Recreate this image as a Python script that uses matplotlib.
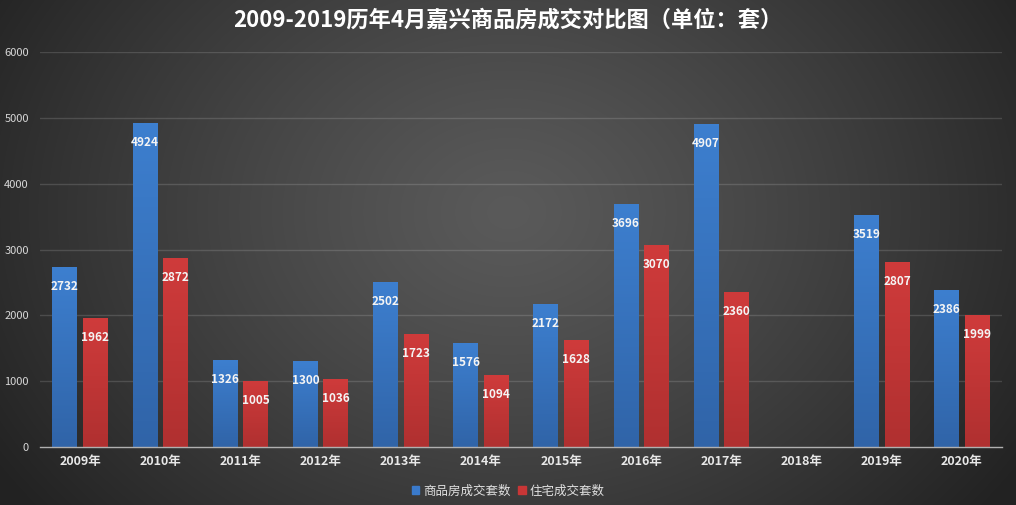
import numpy as np
import matplotlib
matplotlib.use("Agg")
import matplotlib.pyplot as plt
from matplotlib.colors import LinearSegmentedColormap
from matplotlib.patches import Patch

plt.rcParams['font.family'] = ['Noto Sans CJK SC', 'DejaVu Sans']

years = ['2009年', '2010年', '2011年', '2012年', '2013年', '2014年',
         '2015年', '2016年', '2017年', '2018年', '2019年', '2020年']
commercial = [2732, 4924, 1326, 1300, 2502, 1576, 2172, 3696, 4907, None, 3519, 2386]
residential = [1962, 2872, 1005, 1036, 1723, 1094, 1628, 3070, 2360, None, 2807, 1999]
series_names = ['商品房成交套数', '住宅成交套数']
title = '2009-2019历年4月嘉兴商品房成交对比图（单位：套）'

W, H = 1016, 505
fig = plt.figure(figsize=(W / 100, H / 100), dpi=100)

# radial gradient background
bg = fig.add_axes([0, 0, 1, 1], zorder=-10)
yy, xx = np.mgrid[0:H, 0:W]
cx, cy = W * 0.5, H * 0.42
r = np.sqrt(((xx - cx) / (W * 0.6)) ** 2 + ((yy - cy) / (H * 0.95)) ** 2)
r = np.clip(r, 0, 1) ** 1.2
inner = np.array([0x5a, 0x5a, 0x5a]) / 255
outer = np.array([0x22, 0x22, 0x22]) / 255
img = inner[None, None, :] * (1 - r[..., None]) + outer[None, None, :] * r[..., None]
bg.imshow(img, aspect='auto', extent=[0, 1, 0, 1], origin='upper')
bg.axis('off')

ax = fig.add_axes([40 / W, 58 / H, (1002 - 40) / W, (453 - 58) / H])
ax.patch.set_alpha(0)

x = np.arange(len(years))
bw = 0.31
off = 0.19

blue_cmap = LinearSegmentedColormap.from_list('b', ['#3064a8', '#3d7fcf'])
red_cmap = LinearSegmentedColormap.from_list('r', ['#b03030', '#cf3b3b'])

def draw(vals, dx, cmap):
    for i, v in enumerate(vals):
        if v is None:
            continue
        bars = ax.bar(x[i] + dx, v, bw, color='none', zorder=2)
        bar = bars[0]
        grad = np.linspace(0, 1, 100).reshape(-1, 1)
        im = ax.imshow(grad, cmap=cmap, aspect='auto', origin='lower',
                       extent=[x[i] + dx - bw / 2, x[i] + dx + bw / 2, 0, v],
                       zorder=2)
        im.set_clip_path(bar)
        ax.annotate(str(v), (x[i] + dx, v), xytext=(0, -14), textcoords='offset points',
                    ha='center', va='center', color='#f4f4f4', fontsize=8.5,
                    fontweight='bold', zorder=3)

draw(commercial, -off, blue_cmap)
draw(residential, off, red_cmap)

ax.set_xlim(-0.5, len(years) - 0.5)
ax.set_ylim(0, 6000)
ax.set_yticks(range(0, 6001, 1000))
ax.set_xticks(x)
ax.set_xticklabels(years, color='#e8e8e8', fontsize=9, fontweight='bold')
ax.tick_params(axis='y', colors='#d8d8d8', labelsize=8, length=0, pad=8)
ax.tick_params(axis='x', length=0, pad=6)
for yv in range(1000, 6001, 1000):
    ax.axhline(yv, color='white', alpha=0.14, lw=1.0, zorder=1)
for s in ['top', 'right', 'left']:
    ax.spines[s].set_visible(False)
ax.spines['bottom'].set_color('#b0b0b0')
ax.spines['bottom'].set_linewidth(1.0)

handles = [Patch(color='#3a7acb'), Patch(color='#c83636')]
leg = fig.legend(handles, series_names, loc='center', bbox_to_anchor=(0.5, 1 - 491 / H),
                 ncol=2, frameon=False, fontsize=9, handlelength=0.6, handleheight=0.6,
                 handletextpad=0.3, columnspacing=0.6)
for t in leg.get_texts():
    t.set_color('#e0e0e0')

fig.text(0.5, 1 - 20 / H, title, ha='center', va='center', color='white',
         fontsize=16, fontweight='bold')

fig.savefig('out.png', dpi=100)
